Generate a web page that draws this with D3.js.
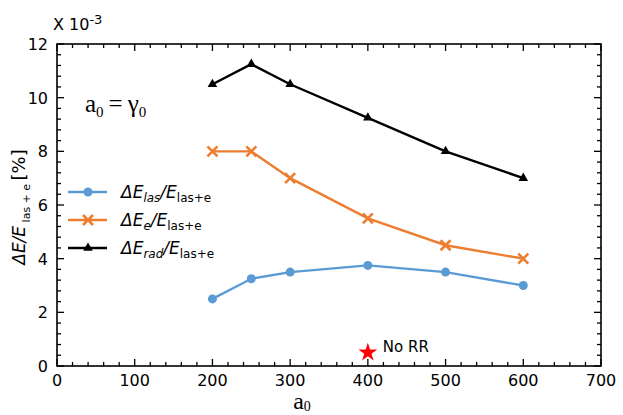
<!DOCTYPE html>
<html>
<head>
<meta charset="utf-8">
<script src="https://cdn.jsdelivr.net/npm/d3@7"></script>
<style>
  body { margin: 0; background: #fff; }
  text { font-family: "DejaVu Sans", sans-serif; }
</style>
</head>
<body>
<div id="chart"></div>
<script>
// Data
const a0 = [200, 250, 300, 400, 500, 600];
const lasE = [2.5, 3.25, 3.5, 3.75, 3.5, 3.0];
const elecE = [8, 8, 7, 5.5, 4.5, 4];
const radE = [10.5, 11.25, 10.5, 9.25, 8, 7];
const noRR = [{ x: 400, y: 0.5 }];
const xTicks = [0, 100, 200, 300, 400, 500, 600, 700];
const yTicks = [0, 2, 4, 6, 8, 10, 12];

const width = 623, height = 415;
const margin = { left: 57, right: 22, top: 44, bottom: 49 };

const svg = d3.select("#chart").append("svg")
    .attr("width", width)
    .attr("height", height);

const x = d3.scaleLinear().domain([0, 700]).range([margin.left, width - margin.right]);
const y = d3.scaleLinear().domain([0, 12]).range([height - margin.bottom, margin.top]);

// frame
svg.append("rect")
    .attr("x", x(0)).attr("y", y(12))
    .attr("width", x(700) - x(0)).attr("height", y(0) - y(12))
    .attr("fill", "none").attr("stroke", "#000").attr("stroke-width", 1.6);

// ticks, pointing inward on all four sides
const xMinor = d3.range(0, 701, 20);
const yMinor = d3.range(0, 12.01, 0.4);
const tickG = svg.append("g").attr("stroke", "#000").attr("stroke-width", 1.3);
xMinor.forEach(v => {
    const len = v % 100 === 0 ? 7 : 4;
    tickG.append("line").attr("x1", x(v)).attr("x2", x(v)).attr("y1", y(0)).attr("y2", y(0) - len);
    tickG.append("line").attr("x1", x(v)).attr("x2", x(v)).attr("y1", y(12)).attr("y2", y(12) + len);
});
yMinor.forEach(v => {
    const major = Math.abs(v / 2 - Math.round(v / 2)) < 1e-6;
    const len = major ? 7 : 4;
    tickG.append("line").attr("x1", x(0)).attr("x2", x(0) + len).attr("y1", y(v)).attr("y2", y(v));
    tickG.append("line").attr("x1", x(700)).attr("x2", x(700) - len).attr("y1", y(v)).attr("y2", y(v));
});

// tick labels
svg.append("g").selectAll("text").data(xTicks).enter().append("text")
    .attr("x", d => x(d)).attr("y", y(0) + 20)
    .attr("text-anchor", "middle").style("font-size", "16px")
    .text(d => d);
svg.append("g").selectAll("text").data(yTicks).enter().append("text")
    .attr("x", x(0) - 9).attr("y", d => y(d) + 6)
    .attr("text-anchor", "end").style("font-size", "16px")
    .text(d => d);

// exponent
const ex = svg.append("text").attr("x", 53).attr("y", 30).style("font-size", "16px");
ex.append("tspan").text("X 10");
ex.append("tspan").attr("dy", -6).style("font-size", "13px").text("-3");

// lines
const line = d3.line().x(d => x(d[0])).y(d => y(d[1]));
const series = [
    { vals: lasE, color: "#5b9bd5", mark: "circle" },
    { vals: elecE, color: "#ed7d31", mark: "cross" },
    { vals: radE, color: "#000000", mark: "tri" }
];

function drawMark(g, mark, cx, cy, color) {
    if (mark === "circle") {
        g.append("circle").attr("cx", cx).attr("cy", cy).attr("r", 4.5).attr("fill", color);
    } else if (mark === "cross") {
        const s = 5;
        g.append("path").attr("d", `M${cx - s},${cy - s}L${cx + s},${cy + s}M${cx - s},${cy + s}L${cx + s},${cy - s}`)
            .attr("stroke", color).attr("stroke-width", 2.6).attr("fill", "none");
    } else {
        g.append("path").attr("d", d3.symbol(d3.symbolTriangle, 40)())
            .attr("transform", `translate(${cx},${cy})`).attr("fill", color);
    }
}

series.forEach(s => {
    const pts = a0.map((v, i) => [v, s.vals[i]]);
    svg.append("path").datum(pts).attr("d", line)
        .attr("fill", "none").attr("stroke", s.color).attr("stroke-width", 2.4);
    const g = svg.append("g");
    pts.forEach(p => drawMark(g, s.mark, x(p[0]), y(p[1]), s.color));
});

// No RR star
svg.append("g").selectAll("path").data(noRR).enter().append("path")
    .attr("d", d3.symbol(d3.symbolStar, 110)())
    .attr("transform", d => `translate(${x(d.x)},${y(d.y)})`)
    .attr("fill", "#ff0000");
svg.append("text").attr("x", x(400) + 15).attr("y", y(0.5) - 1)
    .style("font-size", "15px").text("No RR");

// a0 = gamma0 annotation
const ann = svg.append("text").attr("x", 85).attr("y", 112)
    .style("font-family", "'Liberation Serif', serif").style("font-size", "25px");
ann.append("tspan").text("a");
ann.append("tspan").attr("dy", 5).style("font-size", "15px").text("0");
ann.append("tspan").attr("dy", -5).text("\u2009=\u2009γ");
ann.append("tspan").attr("dy", 5).style("font-size", "15px").text("0");

// legend
const legendLabels = [["las"], ["e"], ["rad"]];
series.forEach((s, i) => {
    const ly = 192 + i * 28;
    svg.append("line").attr("x1", 68).attr("x2", 107).attr("y1", ly).attr("y2", ly)
        .attr("stroke", s.color).attr("stroke-width", 2.4);
    drawMark(svg.append("g"), s.mark, 88, ly, s.color);
    const t = svg.append("text").attr("x", 121).attr("y", ly + 6).style("font-size", "17px");
    t.append("tspan").style("font-style", "italic").text("ΔE");
    t.append("tspan").attr("dy", 4).style("font-style", "italic").style("font-size", "12px").text(legendLabels[i][0]);
    t.append("tspan").attr("dy", -4).style("font-style", "italic").text("/E");
    t.append("tspan").attr("dy", 4).style("font-size", "12px").text("las+e");
});

// y label
const yl = svg.append("text")
    .attr("transform", `translate(25,${(y(0) + y(12)) / 2 + 2}) rotate(-90)`)
    .attr("text-anchor", "middle").style("font-size", "17px");
yl.append("tspan").style("font-style", "italic").text("ΔE/E");
yl.append("tspan").attr("dy", 5).style("font-size", "11px").text(" las + e ");
yl.append("tspan").attr("dy", -5).style("font-size", "18px").text(" [%]");

// x label
const xl = svg.append("text").attr("x", 302).attr("y", 409)
    .attr("text-anchor", "middle")
    .style("font-family", "'Liberation Serif', serif").style("font-size", "24px");
xl.append("tspan").text("a");
xl.append("tspan").attr("dy", 2).style("font-size", "14px").text("0");
</script>
</body>
</html>
